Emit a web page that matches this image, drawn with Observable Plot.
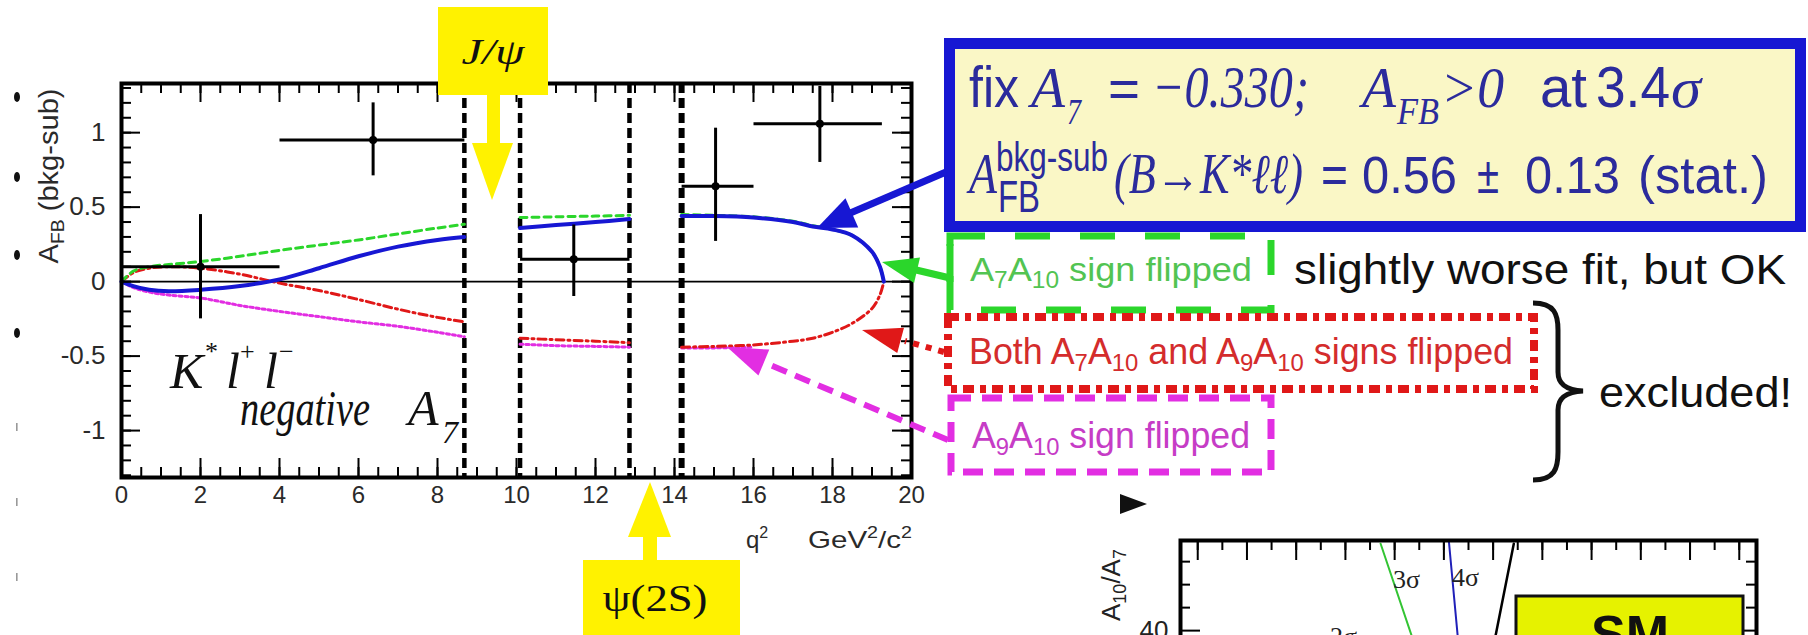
<!DOCTYPE html>
<html><head><meta charset="utf-8">
<script src="https://cdn.jsdelivr.net/npm/d3@7"></script>
<script src="https://cdn.jsdelivr.net/npm/@observablehq/plot@0.6"></script>
<style>
html,body{margin:0;padding:0;background:#fff;}
#wrap{position:relative;width:1808px;height:635px;overflow:hidden;background:#fff;}
#wrap svg{position:absolute;}
</style></head><body><div id="wrap"></div>
<script>
// ---------- main plot data (A_FB vs q^2) ----------
const xMajorTicks = [0, 2, 4, 6, 8, 10, 12, 14, 16, 18, 20];
const yMajorTicks = [-1, -0.5, 0, 0.5, 1];
const xMinorTicks = d3.range(0, 20.001, 0.5);
const yMinorTicks = d3.range(-13, 14).map(d => d / 10);
const vetoEdges = [8.68, 10.09, 12.86, 14.18];

const binCenter = [2.0, 6.37, 11.45, 15.04, 17.68];
const binLow    = [0, 4.0, 10.09, 14.18, 16.0];
const binHigh   = [4.0, 8.68, 12.86, 16.0, 19.25];
const afbValue  = [0.10, 0.95, 0.15, 0.64, 1.06];
const afbErrLow = [-0.25, 0.71, -0.10, 0.27, 0.80];
const afbErrHigh= [0.45, 1.20, 0.38, 1.03, 1.31];

// q^2 grid of the fit curves (null entries = veto gaps)
const curveQ2     = [0, 0.3, 0.7, 1.2, 2, 3, 4, 5, 6, 7, 8, 8.68, 9.4, 10.09, 11, 12, 12.86, 13.5, 14.18, 15, 16, 17, 17.5, 18, 18.5, 19, 19.2, 19.3];
const fitNegA7    = [0, -0.03, -0.055, -0.065, -0.055, -0.03, 0.015, 0.09, 0.17, 0.235, 0.28, 0.30, null, 0.36, 0.38, 0.40, 0.42, null, 0.44, 0.44, 0.43, 0.40, 0.37, 0.35, 0.31, 0.20, 0.10, 0.0];
const fitA7A10    = [0, 0.07, 0.10, 0.115, 0.135, 0.17, 0.21, 0.245, 0.28, 0.32, 0.36, 0.385, null, 0.43, 0.435, 0.44, 0.445, null, 0.45, 0.445, 0.435, 0.405, 0.375, 0.35, 0.31, 0.20, 0.10, 0.0];
const fitBoth     = [0, 0.06, 0.09, 0.10, 0.09, 0.05, -0.01, -0.06, -0.12, -0.185, -0.24, -0.27, null, -0.38, -0.39, -0.40, -0.41, null, -0.44, -0.435, -0.425, -0.40, -0.38, -0.34, -0.28, -0.18, -0.09, 0.0];
const fitA9A10    = [0, -0.04, -0.07, -0.09, -0.11, -0.16, -0.20, -0.235, -0.27, -0.30, -0.34, -0.37, null, -0.42, -0.43, -0.435, -0.44, null, -0.445, -0.445, -0.44, null, null, null, null, null, null, null];

// ---------- second (cropped) plot: A10/A7 contours ----------
const p2XTicks = d3.range(0, 23, 1);
const p2XMajor = d3.range(0, 23, 2);
const p2YMinor = [45, 50, 55];
const p2YMajor = [40];
const sig3X = [7.43, 8.69], sig3Y = [58.9, 38.9];
const sig4X = [10.2, 10.56], sig4Y = [59.6, 38.9];
const edgeX = [12.84, 12.1], edgeY = [58.9, 38.9];

const SANS = "Liberation Sans, Arial, Helvetica, sans-serif";
const SERIF = "Liberation Serif, Times New Roman, serif";
const BLUE = "#1717d3", BOXTXT = "#2b2b9c", GREEN = "#2bd62b", GTXT = "#52c452",
      RED = "#e01818", RTXT = "#d42c2c", MAG = "#e22ee2", MTXT = "#c63cc6", YEL = "#fff200";

const wrap = document.getElementById("wrap");

// ---------- main plot ----------
const FH = 394, FW = 790;
const main = Plot.plot({
  width: 1808, height: 635,
  marginLeft: 121, marginRight: 897, marginTop: 83, marginBottom: 158,
  x: {domain: [0, 20], axis: null},
  y: {domain: [-1.315, 1.33], axis: null},
  style: {background: "transparent", fontFamily: SANS},
  marks: [
    Plot.ruleY([0], {stroke: "#000", strokeWidth: 1.6}),
    Plot.ruleX(vetoEdges, {x: d => d, stroke: "#000", strokeWidth: d => d > 14 ? 6 : 4.5, strokeDasharray: "10,5"}),
    Plot.line(curveQ2, {x: d => d, y: fitA9A10, stroke: MAG, strokeWidth: 3, strokeDasharray: "3,3", curve: "catmull-rom"}),
    Plot.line(curveQ2, {x: d => d, y: fitBoth, stroke: RED, strokeWidth: 3, strokeDasharray: "8,4,2,4", curve: "catmull-rom"}),
    Plot.line(curveQ2, {x: d => d, y: fitA7A10, stroke: GREEN, strokeWidth: 3, strokeDasharray: "7,5", curve: "catmull-rom"}),
    Plot.line(curveQ2, {x: d => d, y: fitNegA7, stroke: BLUE, strokeWidth: 4, curve: "catmull-rom"}),
    Plot.link(binCenter, {x1: binLow, x2: binHigh, y1: afbValue, y2: afbValue, stroke: "#000", strokeWidth: 3}),
    Plot.ruleX(binCenter, {x: d => d, y1: afbErrLow, y2: afbErrHigh, stroke: "#000", strokeWidth: 3}),
    Plot.dot(binCenter, {x: d => d, y: afbValue, r: 4, fill: "#000"}),
    Plot.tickX(xMinorTicks, {x: d => d, insetTop: FH - 10, strokeWidth: 2}),
    Plot.tickX(xMinorTicks, {x: d => d, insetBottom: FH - 10, strokeWidth: 2}),
    Plot.tickX(xMajorTicks, {x: d => d, insetTop: FH - 19, strokeWidth: 2}),
    Plot.tickX(xMajorTicks, {x: d => d, insetBottom: FH - 19, strokeWidth: 2}),
    Plot.tickY(yMinorTicks, {y: d => d, insetRight: FW - 10, strokeWidth: 2}),
    Plot.tickY(yMinorTicks, {y: d => d, insetLeft: FW - 10, strokeWidth: 2}),
    Plot.tickY(yMajorTicks, {y: d => d, insetRight: FW - 19, strokeWidth: 2}),
    Plot.tickY(yMajorTicks, {y: d => d, insetLeft: FW - 19, strokeWidth: 2}),
    Plot.frame({stroke: "#000", strokeWidth: 4}),
    Plot.text(xMajorTicks, {x: d => d, frameAnchor: "bottom", dy: 25, text: d => String(d), fontSize: 24, fill: "#2a2a2a"}),
    Plot.text(yMajorTicks, {y: d => d, frameAnchor: "left", dx: -16, textAnchor: "end", text: d => String(d), fontSize: 26, fill: "#2a2a2a"})
  ]
});
main.style.left = "0px"; main.style.top = "0px";
wrap.appendChild(main);

// ---------- second plot ----------
const P2H = 160, P2W = 576;
const p2 = Plot.plot({
  width: 728, height: 200,
  marginLeft: 100, marginRight: 52, marginTop: 40, marginBottom: 0,
  x: {domain: [-0.7, 22.7], axis: null},
  y: {domain: [24.8, 59.6], axis: null},
  style: {background: "transparent", fontFamily: SANS},
  marks: [
    Plot.line(sig3X, {x: d => d, y: sig3Y, stroke: "#33c433", strokeWidth: 2}),
    Plot.line(sig4X, {x: d => d, y: sig4Y, stroke: "#2020b8", strokeWidth: 2}),
    Plot.line(edgeX, {x: d => d, y: edgeY, stroke: "#000", strokeWidth: 2.5}),
    Plot.tickX(p2XTicks, {x: d => d, insetBottom: P2H - 10, strokeWidth: 2}),
    Plot.tickX(p2XMajor, {x: d => d, insetBottom: P2H - 20, strokeWidth: 2}),
    Plot.tickY(p2YMinor, {y: d => d, insetRight: P2W - 10, strokeWidth: 2}),
    Plot.tickY(p2YMinor, {y: d => d, insetLeft: P2W - 10, strokeWidth: 2}),
    Plot.tickY(p2YMajor, {y: d => d, insetRight: P2W - 20, strokeWidth: 2}),
    Plot.tickY(p2YMajor, {y: d => d, insetLeft: P2W - 20, strokeWidth: 2}),
    Plot.frame({stroke: "#000", strokeWidth: 4}),
    Plot.text(p2YMajor, {y: d => d, frameAnchor: "left", dx: -12, textAnchor: "end", text: d => String(d), fontSize: 26, fill: "#222"})
  ]
});
p2.style.left = "1080px"; p2.style.top = "500px";
wrap.appendChild(p2);

// ---------- annotation overlay ----------
function T(x, y, s, o = {}) {
  return `<text x="${x}" y="${y}" font-family="${o.ff || SANS}" font-size="${o.fs || 20}"` +
    (o.it ? ` font-style="italic"` : "") + (o.fw ? ` font-weight="${o.fw}"` : "") +
    ` fill="${o.fill || "#111"}"` +
    (o.tl ? ` textLength="${o.tl}" lengthAdjust="spacingAndGlyphs"` : "") +
    (o.anchor ? ` text-anchor="${o.anchor}"` : "") +
    (o.tr ? ` transform="${o.tr}"` : "") + `>${s}</text>`;
}
function head(tx, ty, fx, fy, len, half, fill) {
  const dx = tx - fx, dy = ty - fy, L = Math.hypot(dx, dy), ux = dx / L, uy = dy / L;
  const bx = tx - ux * len, by = ty - uy * len;
  return `<polygon points="${tx},${ty} ${bx + uy * half},${by - ux * half} ${bx - uy * half},${by + ux * half}" fill="${fill}"/>`;
}

let s = "";
// slide bullets at left edge
[97, 177, 255, 333].forEach(y => s += `<ellipse cx="17" cy="${y}" rx="3" ry="5" fill="#111"/>`);
[427, 502, 577].forEach(y => s += `<rect x="16" y="${y - 4}" width="1.6" height="8" fill="#999"/>`);

// axis titles
s += `<text transform="translate(58,176) rotate(-90)" text-anchor="middle" font-family="${SANS}" font-size="27" fill="#2a2a2a" textLength="175" lengthAdjust="spacingAndGlyphs">A<tspan dy="6" font-size="18">FB</tspan><tspan dy="-6"> (bkg-sub)</tspan></text>`;
s += `<text x="746" y="548" font-family="${SANS}" font-size="24" fill="#2a2a2a">q<tspan dy="-10" font-size="16">2</tspan></text>`;
s += `<text x="808" y="548" font-family="${SANS}" font-size="24" fill="#2a2a2a" textLength="104" lengthAdjust="spacingAndGlyphs">GeV<tspan dy="-10" font-size="16">2</tspan><tspan dy="10">/c</tspan><tspan dy="-10" font-size="16">2</tspan></text>`;

// in-plot labels
s += T(170, 388, "K", {ff: SERIF, it: 1, fs: 50, fill: "#111"});
s += T(205, 360, "*", {ff: SERIF, fs: 26, fill: "#111"});
s += T(226, 388, "l", {ff: SERIF, it: 1, fs: 50, fill: "#111"});
s += T(240, 360, "+", {ff: SERIF, fs: 26, fill: "#111"});
s += T(264, 388, "l", {ff: SERIF, it: 1, fs: 50, fill: "#111"});
s += T(279, 360, "\u2212", {ff: SERIF, fs: 26, fill: "#111"});
s += T(240, 425, "negative", {ff: SERIF, it: 1, fs: 50, tl: 130, fill: "#111"});
s += T(408, 425, "A", {ff: SERIF, it: 1, fs: 50, fill: "#111"});
s += T(442, 443, "7", {ff: SERIF, it: 1, fs: 32, fill: "#111"});

// J/psi box and arrow
s += `<rect x="438" y="7" width="110" height="88" fill="${YEL}"/>`;
s += `<rect x="487" y="95" width="13" height="50" fill="${YEL}"/>`;
s += `<polygon points="472,143 513,143 492,200" fill="${YEL}"/>`;
s += T(493, 64, "J/\u03C8", {ff: SERIF, it: 1, fs: 36, tl: 63, anchor: "middle", fill: "#111"});
// psi(2S) box and arrow
s += `<rect x="583" y="560" width="157" height="80" fill="${YEL}"/>`;
s += `<rect x="643" y="535" width="14" height="26" fill="${YEL}"/>`;
s += `<polygon points="650,482 628,537 671,537" fill="${YEL}"/>`;
s += T(655, 611, "\u03C8(2S)", {ff: SERIF, fs: 38, tl: 105, anchor: "middle", fill: "#111"});

// blue result box
s += `<rect x="949.5" y="43.5" width="851" height="183" fill="#faf7c6" stroke="${BLUE}" stroke-width="11"/>`;
const b = {fill: BOXTXT};
s += T(969, 107, "fix", {...b, fs: 58, tl: 50});
s += T(1031, 107, "A", {...b, ff: SERIF, it: 1, fs: 58, tl: 34});
s += T(1067, 124, "7", {...b, ff: SERIF, it: 1, fs: 36, tl: 14});
s += T(1108, 107, "=", {...b, fs: 54, tl: 32});
s += T(1152, 107, "\u22120.330;", {...b, ff: SERIF, it: 1, fs: 60, tl: 157});
s += T(1362, 107, "A", {...b, ff: SERIF, it: 1, fs: 58, tl: 34});
s += T(1397, 124, "FB", {...b, ff: SERIF, it: 1, fs: 38, tl: 42});
s += T(1441, 107, "&gt;0", {...b, ff: SERIF, it: 1, fs: 58, tl: 63});
s += T(1540, 107, "at", {...b, fs: 58, tl: 47});
s += T(1596, 107, "3.4", {...b, fs: 58, tl: 74});
s += T(1671, 107, "\u03C3", {...b, ff: SERIF, it: 1, fs: 58, tl: 30});
s += T(969, 193, "A", {...b, ff: SERIF, it: 1, fs: 56, tl: 28});
s += T(996, 171, "bkg-sub", {...b, fs: 40, tl: 112});
s += T(998, 212, "FB", {...b, fs: 44, tl: 42});
s += T(1114, 193, "(B\u2192K*\u2113\u2113)", {...b, ff: SERIF, it: 1, fs: 56, tl: 189});
s += T(1321, 193, "=", {...b, fs: 54, tl: 27});
s += T(1362, 193, "0.56", {...b, fs: 52, tl: 95});
s += T(1477, 193, "\u00B1", {...b, fs: 52, tl: 22});
s += T(1525, 193, "0.13", {...b, fs: 52, tl: 95});
s += T(1638, 193, "(stat.)", {...b, fs: 52, tl: 130});
// blue arrow
s += `<line x1="946" y1="172" x2="848" y2="214" stroke="${BLUE}" stroke-width="7"/>`;
s += head(817, 228, 946, 172, 38, 16, BLUE);

// green box
s += `<rect x="950" y="236" width="321" height="74" fill="none" stroke="${GREEN}" stroke-width="7" stroke-dasharray="35,30"/>`;
s += `<line x1="950" y1="244" x2="950" y2="282" stroke="${GREEN}" stroke-width="7"/>`;
s += `<line x1="950" y1="278" x2="912" y2="269" stroke="${GREEN}" stroke-width="7"/>`;
s += head(882, 262, 950, 278, 36, 13, GREEN);
s += `<text x="970" y="281" font-family="${SANS}" font-size="34" fill="${GTXT}" textLength="282" lengthAdjust="spacingAndGlyphs">A<tspan font-size="23" dy="7">7</tspan><tspan dy="-7">A</tspan><tspan font-size="23" dy="7">10</tspan><tspan dy="-7"> sign flipped</tspan></text>`;
s += T(1294, 284, "slightly worse fit, but OK", {fs: 42, tl: 492, fill: "#111"});

// red box
s += `<rect x="948" y="317" width="586" height="72" fill="none" stroke="${RED}" stroke-width="8" stroke-dasharray="11,6,6,6"/>`;
s += `<line x1="944" y1="352" x2="905" y2="341" stroke="${RED}" stroke-width="6" stroke-dasharray="6,7"/>`;
s += head(862, 330, 944, 352, 40, 13, RED);
s += `<text x="969" y="364" font-family="${SANS}" font-size="36" fill="${RTXT}" textLength="544" lengthAdjust="spacingAndGlyphs">Both A<tspan font-size="24" dy="7">7</tspan><tspan dy="-7">A</tspan><tspan font-size="24" dy="7">10</tspan><tspan dy="-7"> and A</tspan><tspan font-size="24" dy="7">9</tspan><tspan dy="-7">A</tspan><tspan font-size="24" dy="7">10</tspan><tspan dy="-7"> signs flipped</tspan></text>`;

// magenta box
s += `<rect x="951" y="398" width="320" height="74" fill="none" stroke="${MAG}" stroke-width="7" stroke-dasharray="20,11"/>`;
s += `<line x1="948" y1="440" x2="768" y2="364" stroke="${MAG}" stroke-width="6" stroke-dasharray="16,9"/>`;
s += head(727, 347, 948, 440, 40, 14, MAG);
s += `<text x="972" y="448" font-family="${SANS}" font-size="36" fill="${MTXT}" textLength="278" lengthAdjust="spacingAndGlyphs">A<tspan font-size="24" dy="7">9</tspan><tspan dy="-7">A</tspan><tspan font-size="24" dy="7">10</tspan><tspan dy="-7"> sign flipped</tspan></text>`;

// brace + excluded
s += `<path d="M1533,303 C1555,303 1558,315 1558,330 L1558,372 C1558,384 1566,390 1583,391 C1566,392 1558,398 1558,410 L1558,452 C1558,468 1555,480 1533,480" fill="none" stroke="#111" stroke-width="5"/>`;
s += T(1599, 407, "excluded!", {fs: 42, tl: 193, fill: "#111"});

// small black triangle
s += `<polygon points="1120,494 1147,504 1120,514" fill="#111"/>`;

// second plot annotations
s += `<text transform="translate(1120,585) rotate(-90)" text-anchor="middle" font-family="${SANS}" font-size="26" fill="#222">A<tspan font-size="18" dy="6">10</tspan><tspan dy="-6">/A</tspan><tspan font-size="18" dy="6">7</tspan></text>`;
s += T(1393, 588, "3\u03C3", {ff: SERIF, fs: 26, fill: "#222"});
s += T(1452, 586, "4\u03C3", {ff: SERIF, fs: 26, fill: "#222"});
s += T(1330, 645, "2\u03C3", {ff: SERIF, fs: 26, fill: "#222"});
s += `<rect x="1516" y="596" width="227" height="80" fill="#e6f200" stroke="#111" stroke-width="3"/>`;
s += T(1630, 652, "SM", {fs: 52, fw: "bold", anchor: "middle", fill: "#111"});

const ov = document.createElementNS("http://www.w3.org/2000/svg", "svg");
ov.setAttribute("width", 1808); ov.setAttribute("height", 635);
ov.setAttribute("viewBox", "0 0 1808 635");
ov.style.left = "0px"; ov.style.top = "0px";
ov.innerHTML = s;
wrap.appendChild(ov);
</script></body></html>
